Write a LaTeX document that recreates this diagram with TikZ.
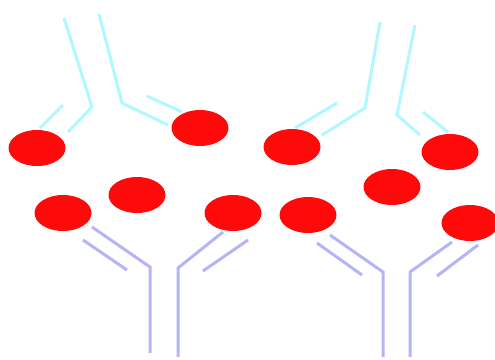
\documentclass[tikz,border=0pt]{standalone}
\usetikzlibrary{shapes.geometric}
\begin{document}
\begin{tikzpicture}[x=1pt,y=-1pt,
  antigen/.style={ellipse,fill=agred,draw=none,minimum width=57pt,minimum height=36pt,inner sep=0pt},
  capture/.style={draw=abcyan,line width=3pt,line join=miter},
  detect/.style={draw=abblue,line width=3pt,line join=miter}]
\definecolor{agred}{HTML}{FF0A0A}
\definecolor{abcyan}{HTML}{B0F8FF}
\definecolor{abblue}{HTML}{B4B4F6}
\useasboundingbox (0,0) rectangle (495,359);
% antigens
\node[antigen] (a1) at (37,148) {};
\node[antigen] (a2) at (200,128) {};
\node[antigen] (a3) at (292,147) {};
\node[antigen] (a4) at (450,152) {};
\node[antigen] (a5) at (63,213) {};
\node[antigen] (a6) at (137,195) {};
\node[antigen] (a7) at (233,213) {};
\node[antigen] (a8) at (308,215) {};
\node[antigen] (a9) at (392,187) {};
\node[antigen] (a10) at (470,223) {};
% upper (inverted) antibodies
\draw[capture] (64,18) -- (92,107) -- (68,132);
\draw[capture] (63,105) -- (40,128);
\draw[capture] (99,14) -- (122,103) -- (168,125);
\draw[capture] (147,96) -- (182,112);
\draw[capture] (380,22) -- (365,108) -- (322,135);
\draw[capture] (337,103) -- (295,128);
\draw[capture] (415,25) -- (397,115) -- (420,135);
\draw[capture] (423,112) -- (448,132);
% lower antibodies
\draw[detect] (92,227) -- (150,267) -- (150,353);
\draw[detect] (83,240) -- (127,270);
\draw[detect] (223,232) -- (178,268) -- (178,357);
\draw[detect] (248,240) -- (203,271);
\draw[detect] (330,235) -- (383,272) -- (383,357);
\draw[detect] (317,243) -- (362,275);
\draw[detect] (452,242) -- (410,272) -- (410,357);
\draw[detect] (478,245) -- (437,276);
\end{tikzpicture}
\end{document}
